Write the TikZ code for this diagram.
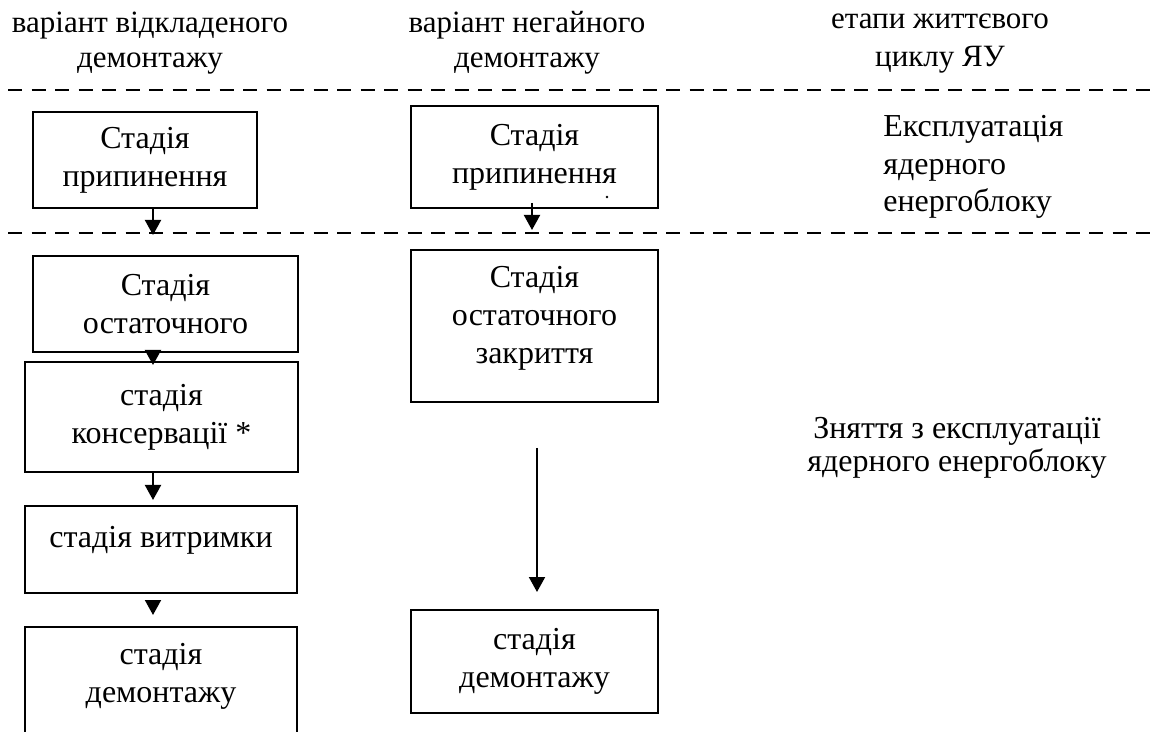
\documentclass[tikz,border=0pt]{standalone}
\usepackage{fontspec}
\setmainfont{Liberation Serif}
\usetikzlibrary{arrows.meta,positioning,calc}

\begin{document}
\begin{tikzpicture}[x=0.5pt,y=-0.5pt,
  stage/.style={draw,line width=1pt,inner sep=0pt,align=center,font=\fontsize{16}{19}\selectfont},
  txt/.style={inner sep=0pt,align=center,font=\fontsize{16}{19}\selectfont},
  head/.style={inner sep=0pt,align=center,anchor=base,font=\fontsize{15.5}{17.5}\selectfont},
  arr/.style={-{Triangle[length=7.5pt,width=8pt]},line width=1pt},
  sep/.style={line width=1pt,dash pattern=on 7pt off 4.75pt}]
\useasboundingbox (0,0) rectangle (1157,732);
\clip (0,0) rectangle (1157,732);
% column heads
\node[head] (hDelay) at (150,68) {варіант відкладеного\\демонтажу};
\node[head] (hNow) at (527,68) {варіант негайного\\демонтажу};
\node[head,font=\fontsize{15.5}{19}\selectfont] (hLife) at (940,67) {етапи життєвого\\циклу ЯУ};
% separators
\draw[sep] (8,90)--(1152,90);
\draw[sep] (8,233)--(1152,233);
% life cycle phases
\node[txt,anchor=west,align=left,font=\fontsize{16}{18.75}\selectfont] (pOper) at (883,167) {Експлуатація\\ядерного\\енергоблоку};
\node[txt,font=\fontsize{16}{16.5}\selectfont] (pDecom) at (957,448) {Зняття з експлуатації\\ядерного енергоблоку};
% deferred dismantling
\node[stage,minimum width=112pt,minimum height=48pt] (lStop) at (145,160) {Стадія\\припинення};
\node[stage,minimum width=132.5pt,minimum height=48pt] (lClose) at (165.5,304) {Стадія\\остаточного};
\node[stage,minimum width=136.5pt,minimum height=55pt] (lMoth) at (161.5,417) {стадія\\консервації *};
\node[stage,minimum width=136pt,minimum height=43.5pt] (lHold) at (161,549.5) {};
\node[txt] (lHoldTxt) at (161,540) {стадія витримки};
\node[stage,minimum width=136pt,minimum height=59pt] (lDism) at (161,686) {};
\node[txt] (lDismTxt) at (161,676) {стадія\\демонтажу};
\coordinate (lA1) at (153,235);
\coordinate (lA2) at (153,365);
\coordinate (lA3) at (153,500);
\coordinate (lA4) at (153,615);
\draw[arr] (lStop.south -| lA1) -- (lA1);
\draw[arr] (lClose.south -| lA2) -- (lA2);
\draw[arr] (lMoth.south -| lA3) -- (lA3);
\draw[arr] (lHold.south -| lA4) ++(0,8) -- (lA4);
% immediate dismantling
\node[stage,minimum width=123.5pt,minimum height=51pt] (mStop) at (534.5,157) {Стадія\\припинення};
\fill (607,197) circle (1.3);
\node[stage,minimum width=123.5pt,minimum height=76pt] (mClose) at (534.5,326) {};
\node[txt] (mCloseTxt) at (534.5,318) {Стадія\\остаточного\\закриття};
\node[stage,minimum width=123.5pt,minimum height=51.5pt] (mDism) at (534.5,661.5) {стадія\\демонтажу};
\coordinate (mB1) at (532,230);
\coordinate (mB2) at (537,592);
\draw[arr] (mStop.south -| mB1) ++(0,-6) -- (mB1);
\draw[arr] (mClose.south -| mB2) ++(0,45) -- (mB2);
\end{tikzpicture}
\end{document}
